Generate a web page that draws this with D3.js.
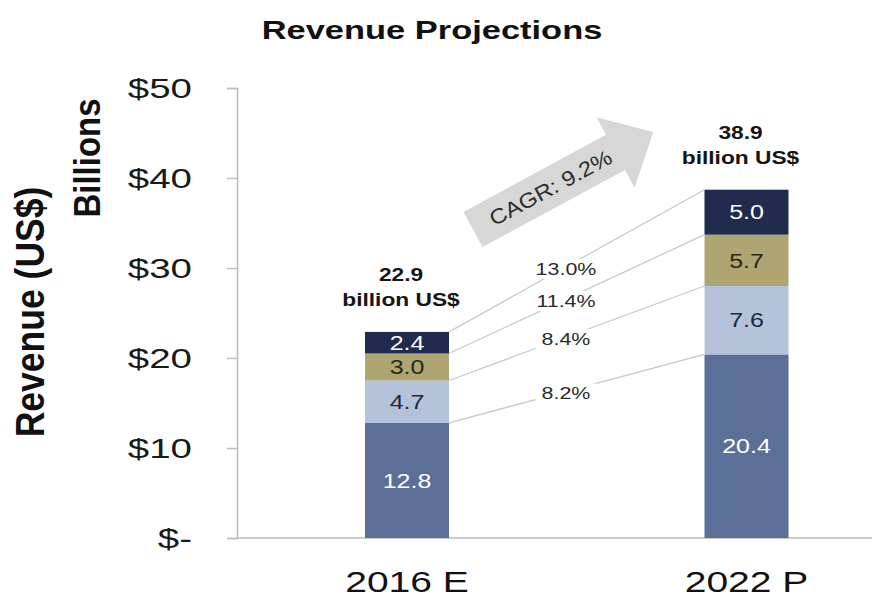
<!DOCTYPE html>
<html>
<head>
<meta charset="utf-8">
<script src="https://cdn.jsdelivr.net/npm/d3@7"></script>
<style>
  html, body { margin: 0; padding: 0; background: #fff; }
  svg { display: block; font-family: "Liberation Sans", Arial, Helvetica, sans-serif; }
</style>
</head>
<body>
<svg id="chart" width="886" height="598"></svg>
<script>
// ---- data ----
const categories = ["2016 E", "2022 P"];
const segmentKeys = ["base", "second", "third", "top"];
const values2016 = [12.8, 4.7, 3.0, 2.4];
const values2022 = [20.4, 7.6, 5.7, 5.0];
const totalLabels = ["22.9", "38.9"];
const segmentCagr = ["8.2%", "8.4%", "11.4%", "13.0%"];
const overallCagr = "CAGR: 9.2%";
const yTicks = [0, 10, 20, 30, 40, 50];

// ---- styling ----
const colors = ["#5b6f97", "#b5c3da", "#afa572", "#212b4e"];
const labelColors = ["#ffffff", "#1e2840", "#2a2818", "#ffffff"];
const stretch = 1.3;   // horizontal widening applied to text glyphs

const svg = d3.select("#chart");

const y = d3.scaleLinear().domain([0, 50]).range([538, 88]);
const x = d3.scalePoint().domain(categories).range([407, 746.5]);
const barW = 84;
const axisX = 237;

const rows = categories.map((c, i) => {
  const vals = i === 0 ? values2016 : values2022;
  const r = { category: c };
  segmentKeys.forEach((k, j) => r[k] = vals[j]);
  return r;
});
const stacked = d3.stack().keys(segmentKeys)(rows);

// ---- title ----
svg.append("text")
  .attr("transform", `translate(432,39) scale(${stretch},1)`)
  .attr("text-anchor", "middle")
  .attr("font-weight", "bold")
  .attr("font-size", 26.5)
  .attr("fill", "#111")
  .text("Revenue Projections");

// ---- axis titles ----
svg.append("text")
  .attr("transform", "translate(44,312) rotate(-90) scale(1,1.15)")
  .attr("text-anchor", "middle")
  .attr("font-weight", "bold")
  .attr("font-size", 35.5)
  .attr("fill", "#111")
  .text("Revenue (US$)");

svg.append("text")
  .attr("transform", "translate(100,158) rotate(-90) scale(1,1.13)")
  .attr("text-anchor", "middle")
  .attr("font-weight", "bold")
  .attr("font-size", 33)
  .attr("fill", "#111")
  .text("Billions");

// ---- y axis ----
const yAxis = d3.axisLeft(y)
  .tickValues(yTicks)
  .tickSize(10)
  .tickPadding(35)
  .tickFormat(d => d === 0 ? "$-" : "$" + d);

const gy = svg.append("g")
  .attr("transform", `translate(${axisX},0)`)
  .call(yAxis);
gy.select(".domain").attr("stroke", "#bdbdbd").attr("stroke-width", 1.6);
gy.selectAll(".tick line").attr("stroke", "#bdbdbd").attr("stroke-width", 1.4);
gy.selectAll(".tick text")
  .attr("font-size", 28.5)
  .attr("font-family", "'Liberation Sans', Arial, sans-serif")
  .attr("fill", "#1a1a1a")
  .attr("transform", function() {
    const tx = +d3.select(this).attr("x");
    return `translate(${tx},0) scale(1.35,1)`;
  })
  .attr("x", 0);

// ---- baseline ----
svg.append("line")
  .attr("x1", axisX).attr("x2", 872)
  .attr("y1", y(0)).attr("y2", y(0))
  .attr("stroke", "#bdbdbd").attr("stroke-width", 1.6);

// ---- bars ----
const layers = svg.append("g").selectAll("g")
  .data(stacked)
  .join("g")
  .attr("fill", (d, i) => colors[i]);

layers.selectAll("rect")
  .data(d => d)
  .join("rect")
  .attr("x", d => x(d.data.category) - barW / 2)
  .attr("width", barW)
  .attr("y", d => y(d[1]))
  .attr("height", d => y(d[0]) - y(d[1]));

// segment value labels
stacked.forEach((layer, i) => {
  layer.forEach(d => {
    svg.append("text")
      .attr("transform", `translate(${x(d.data.category)},${(y(d[0]) + y(d[1])) / 2}) scale(1.25,1)`)
      .attr("text-anchor", "middle")
      .attr("dy", "0.36em")
      .attr("font-size", 20)
      .attr("fill", labelColors[i])
      .text(d3.format(".1f")(d[1] - d[0]));
  });
});

// ---- total labels above bars ----
const lastLayer = stacked[stacked.length - 1];
lastLayer.forEach((d, i) => {
  const cx = x(d.data.category) - 6;
  const top = y(d[1]);
  const g = svg.append("g")
    .attr("font-weight", "bold")
    .attr("font-size", 17.5)
    .attr("fill", "#151515")
    .attr("text-anchor", "middle");
  g.append("text")
    .attr("transform", `translate(${cx},${top - 51}) scale(${stretch},1)`)
    .text(totalLabels[i]);
  g.append("text")
    .attr("transform", `translate(${cx},${top - 26}) scale(${stretch},1)`)
    .text("billion US$");
});

// ---- segment growth connectors ----
const xa = x(categories[0]) + barW / 2;
const xb = x(categories[1]) - barW / 2;
const labelX = 566;
const connectors = svg.append("g");
stacked.forEach((layer, i) => {
  const ya = y(layer[0][1]);
  const yb = y(layer[1][1]);
  connectors.append("line")
    .attr("x1", xa).attr("y1", ya)
    .attr("x2", xb).attr("y2", yb)
    .attr("stroke", "#c9c9c9")
    .attr("stroke-width", 1.3);
  const ly = ya + (yb - ya) * (labelX - xa) / (xb - xa) + 2;
  const lg = connectors.append("g");
  const bg = lg.append("rect").attr("fill", "#fff");
  const t = lg.append("text")
    .attr("transform", `translate(${labelX},${ly}) scale(${stretch},1)`)
    .attr("text-anchor", "middle")
    .attr("dy", "0.36em")
    .attr("font-size", 16.5)
    .attr("fill", "#2b2b2b")
    .text(segmentCagr[i]);
  const w = t.node().getComputedTextLength() * stretch;
  bg.attr("x", labelX - w / 2 - 6).attr("y", ly - 10)
    .attr("width", w + 12).attr("height", 20);
});

// ---- overall growth arrow ----
const arrowAngle = -28.4;
const arrow = svg.append("g")
  .attr("transform", `translate(473,229.5) rotate(${arrowAngle})`);
arrow.append("path")
  .attr("d", "M0,-20 L162,-20 L162,-40 L205,0 L162,40 L162,20 L0,20 Z")
  .attr("fill", "#d7d7d7");
arrow.append("text")
  .attr("transform", "translate(88,0) scale(1.13,1)")
  .attr("text-anchor", "middle")
  .attr("dy", "0.36em")
  .attr("font-size", 21)
  .attr("fill", "#2b2b2b")
  .text(overallCagr);

// ---- category labels ----
categories.forEach(c => {
  svg.append("text")
    .attr("transform", `translate(${x(c)},592) scale(${stretch},1)`)
    .attr("text-anchor", "middle")
    .attr("font-size", 30)
    .attr("fill", "#111")
    .text(c);
});
</script>
</body>
</html>
